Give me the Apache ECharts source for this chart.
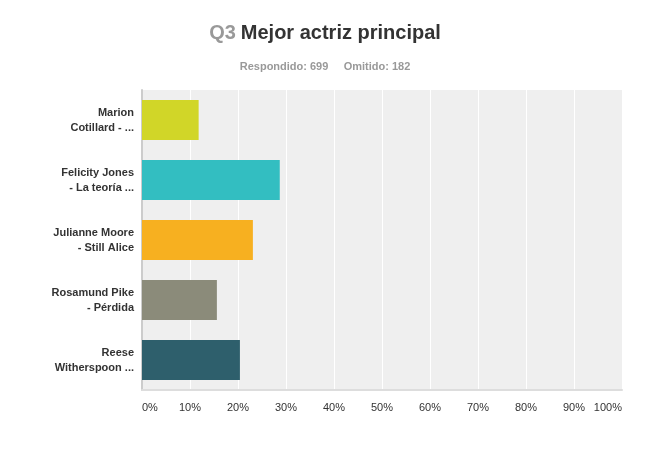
<!DOCTYPE html>
<html>
<head>
<meta charset="utf-8">
<script src="https://cdn.jsdelivr.net/npm/echarts@6/dist/echarts.min.js"></script>
<style>
  html, body { margin: 0; padding: 0; background: #fff; }
  #chart { width: 650px; height: 463px; }
</style>
</head>
<body>
<div id="chart"></div>
<script>
// datos
const categories = [
  'Marion\nCotillard - ...',
  'Felicity Jones\n- La teoría ...',
  'Julianne Moore\n- Still Alice',
  'Rosamund Pike\n- Pérdida',
  'Reese\nWitherspoon ...'
]
const values = [11.8, 28.7, 23.1, 15.6, 20.4]
const colors = ['#d1d628', '#33bec1', '#f7b020', '#8b8b7a', '#2e5f6c']
const xTicks = [0, 10, 20, 30, 40, 50, 60, 70, 80, 90, 100]

let dom = document.getElementById('chart')
let myChart = echarts.init(dom)
var option = {
  animation: false,
  backgroundColor: '#fff',
  textStyle: { fontFamily: 'Liberation Sans, Arial, sans-serif' },
  title: [{
    text: '{q|Q3} {m|Mejor actriz principal}',
    left: 'center',
    top: 18,
    textStyle: {
      rich: {
        q: { fontSize: 20, fontWeight: 'bold', color: '#999999', fontFamily: 'Liberation Sans' },
        m: { fontSize: 20, fontWeight: 'bold', color: '#333333', fontFamily: 'Liberation Sans' }
      }
    }
  }, {
    text: 'Respondido: 699     Omitido: 182',
    left: 'center',
    top: 56,
    textStyle: { fontSize: 11, fontWeight: 'bold', color: '#999999', fontFamily: 'Liberation Sans' }
  }],
  grid: { left: 142, right: 28, top: 90, bottom: 73, containLabel: false, show: true, backgroundColor: '#efefef', borderWidth: 0 },
  xAxis: {
    type: 'value',
    min: 0,
    max: 100,
    interval: 10,
    axisLine: { show: true, lineStyle: { color: '#dddddd', width: 2 } },
    axisTick: { show: false },
    splitLine: { show: true, lineStyle: { color: '#ffffff', width: 1 } },
    axisLabel: {
      margin: 12,
      fontSize: 11,
      color: '#333333',
      alignMinLabel: 'left',
      alignMaxLabel: 'right',
      formatter: function (v) { return xTicks.indexOf(v) >= 0 ? v + '%' : '' }
    }
  },
  yAxis: {
    type: 'category',
    inverse: true,
    data: categories,
    axisLine: { show: true, lineStyle: { color: '#cccccc', width: 2 } },
    axisTick: { show: false },
    axisLabel: {
      margin: 8,
      fontSize: 11,
      fontWeight: 'bold',
      color: '#333333',
      lineHeight: 15,
      align: 'right'
    }
  },
  series: [{
    type: 'bar',
    barWidth: 40,
    data: values.map((v, i) => ({ value: v, itemStyle: { color: colors[i] } }))
  }]
}
myChart.setOption(option)
</script>
</body>
</html>
